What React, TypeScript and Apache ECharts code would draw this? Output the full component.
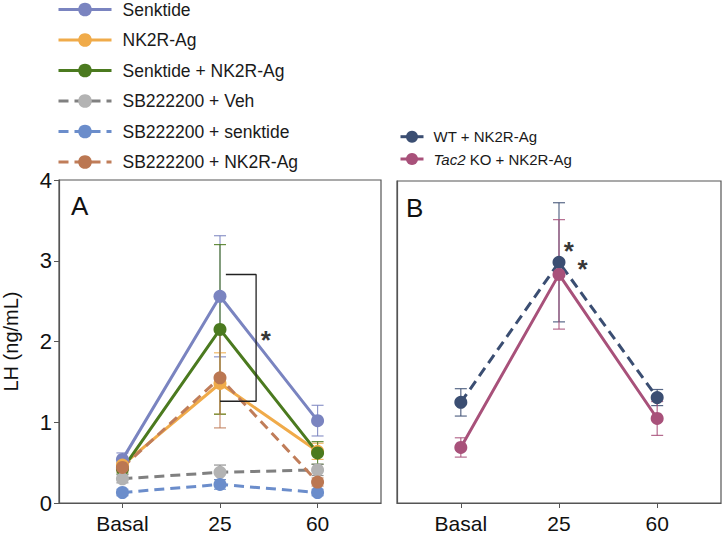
import React, { useEffect, useRef } from "react";
import * as echarts from "echarts";

const categories = ["Basal", "25", "60"];
const xPos = [0, 1, 2];

// Panel A
const senktideMean = [0.54, 2.56, 1.02];
const senktideErr = [0.08, 0.75, 0.19];
const nk2rMean = [0.47, 1.48, 0.64];
const nk2rErr = [0.07, 0.38, 0.1];
const senkNk2rMean = [0.42, 2.15, 0.62];
const senkNk2rErr = [0.06, 1.05, 0.14];
const sbVehMean = [0.3, 0.38, 0.41];
const sbVehErr = [0.05, 0.09, 0.07];
const sbSenkMean = [0.13, 0.23, 0.13];
const sbSenkErr = [0.04, 0.06, 0.04];
const sbNk2rMean = [0.44, 1.55, 0.26];
const sbNk2rErr = [0.06, 0.62, 0.05];

// Panel B
const wtMean = [1.25, 2.99, 1.31];
const wtErr = [0.17, 0.74, 0.1];
const tac2Mean = [0.69, 2.84, 1.05];
const tac2Err = [0.12, 0.68, 0.21];

// Annotations (data coordinates)
const bracketA = [
  [1.06, 2.83],
  [1.37, 2.83],
  [1.37, 1.26],
  [1.0, 1.26],
];
const starsA = [[1.47, 2.1]];
const starsB = [
  [1.1, 3.22],
  [1.24, 3.0],
];

const FONT = "'Liberation Sans', Arial, Helvetica, sans-serif";

type Def = {
  name: string;
  mean: number[];
  err: number[];
  line: string;
  marker: string;
  dashed: boolean;
  panel: number;
};

const defs: Def[] = [
  { name: "Senktide", mean: senktideMean, err: senktideErr, line: "#7a84c0", marker: "#7a84c0", dashed: false, panel: 0 },
  { name: "NK2R-Ag", mean: nk2rMean, err: nk2rErr, line: "#f0ab4a", marker: "#f0ab4a", dashed: false, panel: 0 },
  { name: "Senktide + NK2R-Ag", mean: senkNk2rMean, err: senkNk2rErr, line: "#4b7a1f", marker: "#4b7a1f", dashed: false, panel: 0 },
  { name: "SB222200 + Veh", mean: sbVehMean, err: sbVehErr, line: "#808080", marker: "#b3b3b3", dashed: true, panel: 0 },
  { name: "SB222200 + senktide", mean: sbSenkMean, err: sbSenkErr, line: "#6b8dcb", marker: "#6b8dcb", dashed: true, panel: 0 },
  { name: "SB222200 + NK2R-Ag", mean: sbNk2rMean, err: sbNk2rErr, line: "#c07d59", marker: "#bb7752", dashed: true, panel: 0 },
  { name: "WT + NK2R-Ag", mean: wtMean, err: wtErr, line: "#3b4e72", marker: "#3b4e72", dashed: true, panel: 1 },
  { name: "Tac2 KO + NK2R-Ag", mean: tac2Mean, err: tac2Err, line: "#a8517a", marker: "#a8517a", dashed: false, panel: 1 },
];

function errorSeries(d: Def) {
  const data = xPos.map((x, i) => [x, d.mean[i] - d.err[i], d.mean[i] + d.err[i]]);
  return {
    type: "custom",
    name: d.name + " err",
    xAxisIndex: d.panel,
    yAxisIndex: d.panel,
    silent: true,
    z: 1,
    encode: { x: 0, y: [1, 2] },
    data,
    renderItem: (params: any, api: any) => {
      const x = api.value(0);
      const lo = api.coord([x, api.value(1)]);
      const hi = api.coord([x, api.value(2)]);
      const w = 6;
      const style = { stroke: d.line, lineWidth: 1.2, opacity: 0.85 };
      return {
        type: "group",
        children: [
          { type: "line", shape: { x1: lo[0], y1: lo[1], x2: hi[0], y2: hi[1] }, style },
          { type: "line", shape: { x1: lo[0] - w, y1: lo[1], x2: lo[0] + w, y2: lo[1] }, style },
          { type: "line", shape: { x1: hi[0] - w, y1: hi[1], x2: hi[0] + w, y2: hi[1] }, style },
        ],
      };
    },
  };
}

function lineSeries(d: Def) {
  return {
    type: "line",
    name: d.name,
    xAxisIndex: d.panel,
    yAxisIndex: d.panel,
    z: 3,
    data: xPos.map((x, i) => [x, d.mean[i]]),
    symbol: "circle",
    symbolSize: 13,
    itemStyle: { color: d.marker },
    lineStyle: { color: d.line, width: 3, type: d.dashed ? [10, 6] : "solid" },
  };
}

function starSeries(pts: number[][], panel: number) {
  return {
    type: "scatter",
    xAxisIndex: panel,
    yAxisIndex: panel,
    silent: true,
    z: 5,
    symbolSize: 1,
    itemStyle: { color: "rgba(0,0,0,0)" },
    data: pts,
    label: {
      show: true,
      position: "inside",
      formatter: "*",
      fontSize: 26,
      fontWeight: "bold",
      color: "#000",
      fontFamily: FONT,
      offset: [0, 7],
    },
  };
}

function xAxis(grid: number) {
  return {
    type: "value",
    gridIndex: grid,
    min: -0.65,
    max: 2.65,
    axisLine: { show: true, onZero: false, lineStyle: { color: "#555", width: 1.2 } },
    axisTick: { show: true, inside: false, length: 5, customValues: xPos, lineStyle: { color: "#555" } },
    axisLabel: {
      customValues: xPos,
      formatter: (v: number) => categories[Math.round(v)] ?? "",
      fontSize: 21,
      color: "#111",
      margin: 10,
      fontFamily: FONT,
    },
    splitLine: { show: false },
  };
}

export default function App() {
  const ref = useRef<HTMLDivElement>(null);
  useEffect(() => {
    if (!ref.current) return;
    const chart = echarts.init(ref.current, null, { renderer: "svg" });
    const series: any[] = [];
    defs.forEach((d) => series.push(errorSeries(d)));
    defs.forEach((d) => series.push(lineSeries(d)));
    series.push({
      type: "line",
      xAxisIndex: 0,
      yAxisIndex: 0,
      silent: true,
      z: 4,
      symbol: "none",
      data: bracketA,
      lineStyle: { color: "#222", width: 1.3 },
    });
    series.push(starSeries(starsA, 0));
    series.push(starSeries(starsB, 1));

    chart.setOption({
      animation: false,
      backgroundColor: "#fff",
      textStyle: { fontFamily: FONT },
      grid: [
        { left: 59, top: 180, width: 322, height: 323, show: true, borderColor: "#555", borderWidth: 1.2, backgroundColor: "transparent" },
        { left: 397, top: 181, width: 324, height: 322, show: true, borderColor: "#555", borderWidth: 1.2, backgroundColor: "transparent" },
      ],
      xAxis: [xAxis(0), xAxis(1)],
      yAxis: [
        {
          type: "value",
          gridIndex: 0,
          min: 0,
          max: 4,
          interval: 1,
          name: "LH (ng/mL)",
          nameLocation: "middle",
          nameGap: 38,
          nameRotate: 90,
          nameTextStyle: { fontSize: 20, color: "#111", fontFamily: FONT },
          axisLine: { show: true, onZero: false, lineStyle: { color: "#555", width: 1.2 } },
          axisTick: { show: true, inside: false, length: 5, lineStyle: { color: "#555" } },
          axisLabel: { fontSize: 22, color: "#111", margin: 7, fontFamily: FONT },
          splitLine: { show: false },
        },
        {
          type: "value",
          gridIndex: 1,
          min: 0,
          max: 4,
          interval: 1,
          axisLine: { show: true, onZero: false, lineStyle: { color: "#555", width: 1.2 } },
          axisTick: { show: false },
          axisLabel: { show: false },
          splitLine: { show: false },
        },
      ],
      legend: [
        {
          data: defs.filter((d) => d.panel === 0).map((d) => d.name),
          orient: "vertical",
          left: 57,
          top: 0.5,
          padding: 0,
          itemWidth: 53,
          itemHeight: 17,
          itemGap: 12.5,
          selectedMode: false,
          lineStyle: { width: 3 },
          textStyle: { fontSize: 17.5, lineHeight: 17.5, color: "#1a1a1a", fontFamily: FONT, padding: [0, 0, 0, 6] },
        },
        {
          data: defs.filter((d) => d.panel === 1).map((d) => d.name),
          orient: "vertical",
          left: 399,
          top: 127.7,
          padding: 0,
          itemWidth: 23,
          itemHeight: 15,
          itemGap: 4.3,
          selectedMode: false,
          lineStyle: { width: 3, type: "solid" },
          formatter: (name: string) => (name.startsWith("Tac2") ? "{i|Tac2} KO + NK2R-Ag" : name),
          textStyle: {
            fontSize: 15,
            lineHeight: 18,
            color: "#1a1a1a",
            fontFamily: FONT,
            padding: [0, 0, 0, 5],
            rich: { i: { fontStyle: "italic", fontSize: 15, color: "#1a1a1a", fontFamily: FONT } },
          },
        },
      ],
      graphic: [
        { type: "text", left: 71, top: 193, style: { text: "A", fontSize: 26, fill: "#111", fontFamily: FONT } },
        { type: "text", left: 406, top: 195, style: { text: "B", fontSize: 26, fill: "#111", fontFamily: FONT } },
      ],
      series,
    });
    return () => chart.dispose();
  }, []);
  return <div ref={ref} style={{ position: "absolute", left: 0, top: 0, width: 724, height: 536 }} />;
}
